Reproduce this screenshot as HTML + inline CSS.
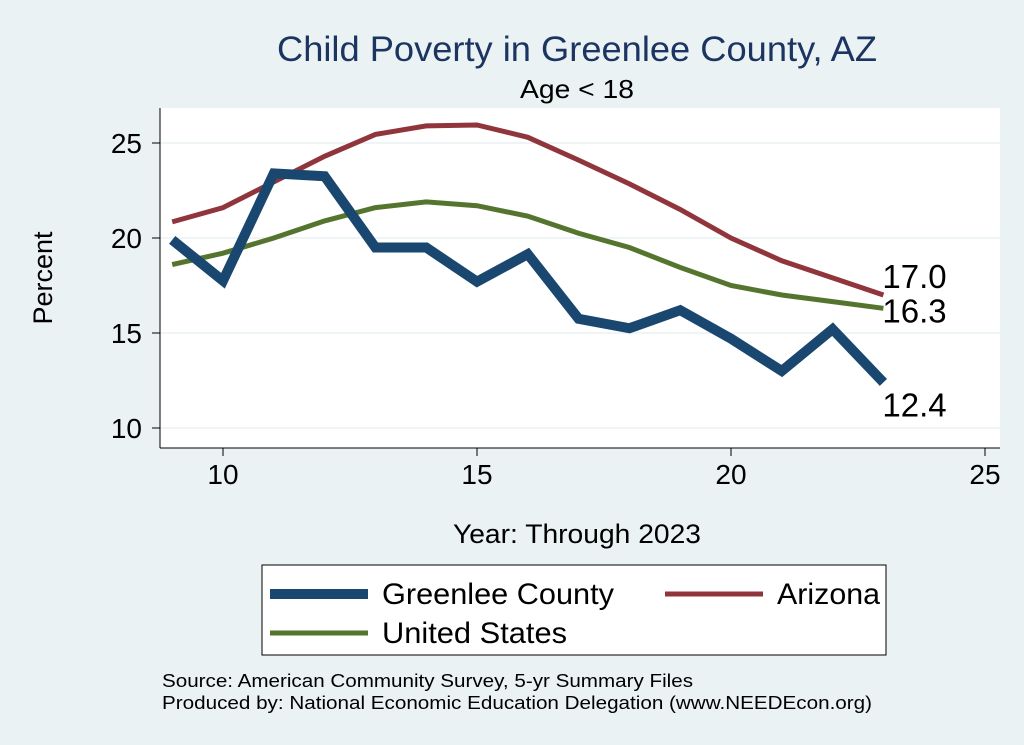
<!DOCTYPE html>
<html><head><meta charset="utf-8"><style>
body{margin:0;background:#eaf2f3;}
svg{display:block;font-family:"Liberation Sans",Arial,sans-serif;}
</style></head><body>
<svg id="chart" width="1024" height="745" viewBox="0 0 1024 745">
<rect x="0" y="0" width="1024" height="745" fill="#eaf2f3"/>
<text x="277" y="61" font-size="35" textLength="600" lengthAdjust="spacingAndGlyphs" fill="#1c3461">Child Poverty in Greenlee County, AZ</text>
<text x="520" y="98" font-size="26" textLength="114" lengthAdjust="spacingAndGlyphs" fill="#000">Age &lt; 18</text>
<rect x="160" y="108" width="840" height="340" fill="#fff"/>
<g id="grid"></g><g id="axes"></g><g id="series"></g>
<text x="52" y="278" text-anchor="middle" font-size="27" transform="rotate(-90 52 278)">Percent</text>
<text x="453" y="543" font-size="27" textLength="248" lengthAdjust="spacingAndGlyphs">Year: Through 2023</text>
<g>
<rect x="262" y="565" width="624" height="90" fill="#fff" stroke="#000" stroke-width="1"/>
<g><line x1="270" y1="594" x2="368" y2="594" stroke="#1a476f" stroke-width="10"/><text x="382" y="604" font-size="30" textLength="232" lengthAdjust="spacingAndGlyphs">Greenlee County</text></g>
<g><line x1="665" y1="594" x2="763" y2="594" stroke="#90353b" stroke-width="5"/><text x="777" y="604" font-size="30" textLength="103" lengthAdjust="spacingAndGlyphs">Arizona</text></g>
<g><line x1="270" y1="633" x2="368" y2="633" stroke="#55752f" stroke-width="5"/><text x="382" y="643" font-size="30" textLength="185" lengthAdjust="spacingAndGlyphs">United States</text></g>
</g>
<text x="162" y="687" font-size="18" textLength="531" lengthAdjust="spacingAndGlyphs">Source: American Community Survey, 5-yr Summary Files</text>
<text x="162" y="709" font-size="18" textLength="710" lengthAdjust="spacingAndGlyphs">Produced by: National Economic Education Delegation (www.NEEDEcon.org)</text>
</svg>
<script>
const years=[9,10,11,12,13,14,15,16,17,18,19,20,21,22,23];
const greenlee=[19.9,17.75,23.4,23.25,19.5,19.5,17.7,19.15,15.75,15.25,16.2,14.7,13.0,15.2,12.4];
const arizona=[20.85,21.6,22.95,24.3,25.45,25.9,25.95,25.3,24.1,22.85,21.5,20.0,18.8,17.9,17.0];
const us=[18.6,19.2,20.0,20.9,21.6,21.9,21.7,21.15,20.25,19.5,18.45,17.5,17.0,16.65,16.3];
const xTicks=[10,15,20,25];
const yTicks=[10,15,20,25];
const NS="http://www.w3.org/2000/svg";
const X=v=>223+(v-10)*50.8;
const Y=v=>143+(25-v)*19;
function mk(t,a,p){const e=document.createElementNS(NS,t);for(const k in a)e.setAttribute(k,a[k]);p.appendChild(e);return e;}
const grid=document.getElementById('grid'),axes=document.getElementById('axes'),ser=document.getElementById('series');
mk('line',{x1:160,y1:448,x2:1000,y2:448,stroke:'#000','stroke-width':1},axes);
mk('line',{x1:160,y1:108,x2:160,y2:448,stroke:'#000','stroke-width':1},axes);
yTicks.forEach(t=>{
 const g=mk('line',{x1:160,x2:1000,y1:Y(t),y2:Y(t),stroke:'#eaf2f3','stroke-width':1.5},grid);
 
 
 mk('line',{x1:152,x2:160,y1:Y(t),y2:Y(t),stroke:'#000'},axes);
 const tx=mk('text',{x:142,y:Y(t)+10,'text-anchor':'end','font-size':28},axes);tx.textContent=t;
 
 
});
xTicks.forEach(t=>{
 mk('line',{x1:X(t),x2:X(t),y1:448,y2:456,stroke:'#000'},axes);
 const tx=mk('text',{x:X(t),y:484,'text-anchor':'middle','font-size':28},axes);tx.textContent=t;
 
 
});
function line(vals,color,w,name){
 const p=mk('polyline',{points:years.map((y,i)=>X(y)+','+Y(vals[i])).join(' '),fill:'none',stroke:color,'stroke-width':w,'stroke-linejoin':'miter'},ser);
 
 
}
line(us,'#55752f',5,'line-united-states');
line(arizona,'#90353b',5,'line-arizona');
line(greenlee,'#1a476f',10,'line-greenlee');
const n=years.length-1;
[[arizona[n],-7,'label-arizona-last'],[us[n],14,'label-us-last'],[greenlee[n],34,'label-greenlee-last']].forEach(([v,dy,nm])=>{
 const t=mk('text',{x:X(years[n])-1,y:Y(v)+dy,'font-size':33},ser);t.textContent=v.toFixed(1);
 
 
});
</script>
</body></html>
